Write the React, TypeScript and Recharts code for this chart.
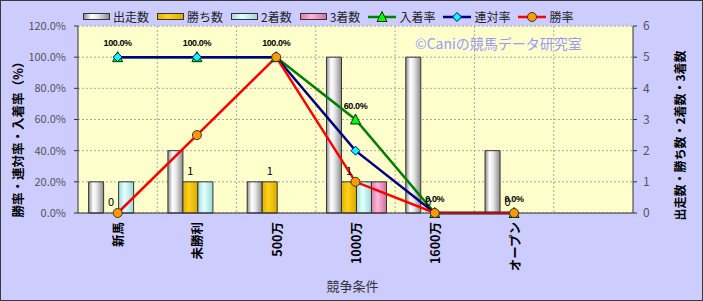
import React from 'react';
import { ComposedChart, Bar, Line, XAxis, YAxis, CartesianGrid, Legend, LabelList, Rectangle } from 'recharts';

const categories = ['新馬', '未勝利', '500万', '1000万', '1600万', 'オープン', ''];
const starts = [1, 2, 1, 5, 5, 2, null];
const wins = [0, 1, 1, 1, 0, 0, null];
const seconds = [1, 1, 0, 1, 0, 0, null];
const thirds = [0, 0, 0, 1, 0, 0, null];
const placeRate = [100, 100, 100, 60, 0, 0, null];
const rentaiRate = [100, 100, 100, 40, 0, 0, null];
const winRate = [0, 50, 100, 20, 0, 0, null];
const rateTicks = [0, 20, 40, 60, 80, 100, 120];
const countTicks = [0, 1, 2, 3, 4, 5, 6];

const data = categories.map((name, i) => ({
  name,
  出走数: starts[i],
  勝ち数: wins[i],
  '2着数': seconds[i],
  '3着数': thirds[i],
  入着率: placeRate[i],
  連対率: rentaiRate[i],
  勝率: winRate[i],
}));

const FONT = '"Noto Sans CJK JP", "Noto Sans", sans-serif';
const pct = (v: any) => (v == null ? '' : `${Number(v).toFixed(1)}%`);
const asText = (v: any) => (v == null ? '' : String(v));

// zero-count bars keep a hairline so their "0" label is still placed, but draw nothing
const winShape = (p: any) => (p.height < 0.5 ? <g /> : <Rectangle {...p} />);

// markers for the three rate lines
const triangle = (p: any) => {
  if (p.cy == null) return <g key={p.index} />;
  const { cx, cy } = p;
  return <polygon key={p.index} points={`${cx},${cy - 5.5} ${cx - 5},${cy + 4.5} ${cx + 5},${cy + 4.5}`} fill="#00ff00" stroke="#003300" strokeWidth={1} />;
};
const diamond = (p: any) => {
  if (p.cy == null) return <g key={p.index} />;
  const { cx, cy } = p;
  return <polygon key={p.index} points={`${cx},${cy - 4.5} ${cx + 4.5},${cy} ${cx},${cy + 4.5} ${cx - 4.5},${cy}`} fill="#00ffff" stroke="#000080" strokeWidth={1} />;
};
const circle = (p: any) => {
  if (p.cy == null) return <g key={p.index} />;
  return <circle key={p.index} cx={p.cx} cy={p.cy} r={4.5} fill="#ff9900" stroke="#333" strokeWidth={1} />;
};

const legendItems = [
  { name: '出走数', kind: 'bar', fill: 'url(#gStart)' },
  { name: '勝ち数', kind: 'bar', fill: 'url(#gWin)' },
  { name: '2着数', kind: 'bar', fill: 'url(#gSecond)' },
  { name: '3着数', kind: 'bar', fill: 'url(#gThird)' },
  { name: '入着率', kind: 'line', stroke: '#008000', marker: triangle },
  { name: '連対率', kind: 'line', stroke: '#000080', marker: diamond },
  { name: '勝率', kind: 'line', stroke: '#ff0000', marker: circle },
];

const renderLegend = () => (
  <div style={{ display: 'flex', alignItems: 'center', fontSize: 12, color: '#222', lineHeight: '14px', whiteSpace: 'nowrap' }}>
    {legendItems.map((it) => (
      <div key={it.name} style={{ display: 'flex', alignItems: 'center', marginRight: 8 }}>
        {it.kind === 'bar' ? (
          <svg width={27} height={8} style={{ marginRight: 3 }}>
            <rect x={0.5} y={0.5} width={26} height={6} fill={it.fill} stroke="#333" />
          </svg>
        ) : (
          <svg width={28} height={12} style={{ marginRight: 3 }}>
            <line x1={0} y1={6} x2={28} y2={6} stroke={it.stroke} strokeWidth={2.5} />
            {it.marker!({ cx: 14, cy: 6, index: 0 })}
          </svg>
        )}
        <span>{it.name}</span>
      </div>
    ))}
  </div>
);

const CategoryTick = (props: any) => {
  const { x, y, payload } = props;
  return (
    <g transform={`translate(${x},${y})`}>
      <text transform="rotate(-90)" textAnchor="end" dominantBaseline="central" fontSize={12.5} fontWeight="bold" fill="#000">
        {payload.value}
      </text>
    </g>
  );
};

const leftTitle = (props: any) => {
  const { x, y, height } = props.viewBox;
  const cx = x - 1;
  const cy = y + height / 2 + 17;
  return (
    <text x={cx} y={cy} transform={`rotate(-90, ${cx}, ${cy})`} textAnchor="middle" dominantBaseline="central" fontSize={12.5} fontWeight="bold" fill="#000">
      勝率・連対率・入着率（%）
    </text>
  );
};

const rightTitle = (props: any) => {
  const { x, y, height } = props.viewBox;
  const cx = x + 46;
  const cy = y + height / 2 + 16;
  return (
    <text x={cx} y={cy} transform={`rotate(-90, ${cx}, ${cy})`} textAnchor="middle" dominantBaseline="central" fontSize={12} fontWeight="bold" fill="#000">
      出走数・勝ち数・2着数・3着数
    </text>
  );
};

const xTitle = (props: any) => {
  const { x, y, width } = props.viewBox;
  return (
    <text x={x + width / 2 - 3} y={y + 72} textAnchor="middle" dominantBaseline="central" fontSize={13} fill="#333">
      競争条件
    </text>
  );
};

export default function App() {
  return (
    <div style={{ position: 'relative', width: 703, height: 301, background: '#ccccff', boxShadow: 'inset 0 0 0 1px #3a3a3a', fontFamily: FONT, overflow: 'hidden' }}>
      <style>{'body{margin:0}'}</style>
      <ComposedChart width={703} height={301} data={data} margin={{ top: 26, right: 20, bottom: 0, left: 18 }} barCategoryGap="13.4%" barGap={0}>
        <defs>
          <linearGradient id="gStart" x1="0" y1="0" x2="1" y2="0">
            <stop offset="0%" stopColor="#8a8a8a" />
            <stop offset="30%" stopColor="#ffffff" />
            <stop offset="55%" stopColor="#e6e6e6" />
            <stop offset="100%" stopColor="#8a8a8a" />
          </linearGradient>
          <linearGradient id="gWin" x1="0" y1="0" x2="1" y2="0">
            <stop offset="0%" stopColor="#e0b000" />
            <stop offset="40%" stopColor="#ffd21a" />
            <stop offset="100%" stopColor="#dcaa00" />
          </linearGradient>
          <linearGradient id="gSecond" x1="0" y1="0" x2="1" y2="0">
            <stop offset="0%" stopColor="#a0dcdc" />
            <stop offset="40%" stopColor="#e4ffff" />
            <stop offset="100%" stopColor="#9cd8d8" />
          </linearGradient>
          <linearGradient id="gThird" x1="0" y1="0" x2="1" y2="0">
            <stop offset="0%" stopColor="#dd77aa" />
            <stop offset="40%" stopColor="#ffb6da" />
            <stop offset="100%" stopColor="#d070a0" />
          </linearGradient>
        </defs>
        <CartesianGrid
          yAxisId="rate"
          fill="#ffffcc"
          stroke="#a8a8a8"
          strokeDasharray="2 2"
          verticalCoordinatesGenerator={({ offset }: any) =>
            categories.slice(1).map((_, i) => offset.left + ((i + 1) * offset.width) / categories.length)
          }
        />
        <XAxis
          dataKey="name"
          height={88}
          interval={0}
          tickLine={false}
          tickSize={0}
          tickMargin={9}
          tick={<CategoryTick />}
          axisLine={{ stroke: '#333' }}
          label={xTitle}
        />
        <YAxis
          yAxisId="rate"
          width={60}
          domain={[0, 120]}
          ticks={rateTicks}
          tickFormatter={pct}
          tick={{ fontSize: 11, fill: '#555' }}
          tickSize={4}
          tickMargin={8}
          axisLine={{ stroke: '#333' }}
          tickLine={{ stroke: '#333' }}
          label={leftTitle}
        />
        <YAxis
          yAxisId="count"
          orientation="right"
          width={50}
          domain={[0, 6]}
          ticks={countTicks}
          tick={{ fontSize: 12, fill: '#555' }}
          tickSize={4}
          tickMargin={6}
          axisLine={{ stroke: '#333' }}
          tickLine={{ stroke: '#333' }}
          label={rightTitle}
        />
        <Legend
          verticalAlign="middle"
          align="center"
          layout="horizontal"
          wrapperStyle={{ top: 10, left: 83, width: 'auto', height: 14 }}
          content={renderLegend}
        />
        <Bar yAxisId="count" dataKey="出走数" fill="url(#gStart)" stroke="#333" isAnimationActive={false} />
        <Bar yAxisId="count" dataKey="勝ち数" fill="url(#gWin)" stroke="#333" minPointSize={0.01} shape={winShape} isAnimationActive={false}>
          <LabelList dataKey="勝ち数" position="top" offset={7} formatter={asText} fontSize={11} fill="#000" />
        </Bar>
        <Bar yAxisId="count" dataKey="2着数" fill="url(#gSecond)" stroke="#333" isAnimationActive={false} />
        <Bar yAxisId="count" dataKey="3着数" fill="url(#gThird)" stroke="#333" isAnimationActive={false} />
        <Line yAxisId="rate" type="linear" dataKey="入着率" stroke="#008000" strokeWidth={2.5} dot={triangle} activeDot={false} isAnimationActive={false}>
          <LabelList dataKey="入着率" position="top" offset={11} formatter={pct} fontSize={9} fontWeight="bold" fill="#000" style={{ letterSpacing: -0.4, fontFamily: '"Liberation Sans", sans-serif' }} />
        </Line>
        <Line yAxisId="rate" type="linear" dataKey="連対率" stroke="#000080" strokeWidth={2.5} dot={diamond} activeDot={false} isAnimationActive={false} />
        <Line yAxisId="rate" type="linear" dataKey="勝率" stroke="#ff0000" strokeWidth={2.5} dot={circle} activeDot={false} isAnimationActive={false} />
      </ComposedChart>
      <div style={{ position: 'absolute', left: 415, top: 35, fontSize: 14, color: '#9999ff', whiteSpace: 'nowrap', lineHeight: '17px' }}>
        ©Caniの競馬データ研究室
      </div>
    </div>
  );
}
